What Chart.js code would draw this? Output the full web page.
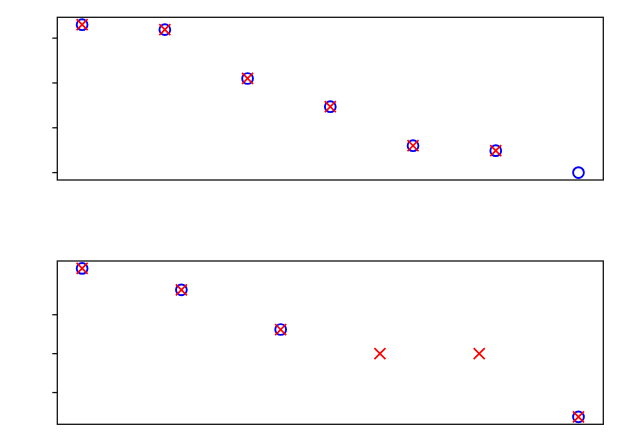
<!DOCTYPE html>
<html>
<head>
<meta charset="utf-8">
<script src="https://cdn.jsdelivr.net/npm/chart.js@4.4.1/dist/chart.umd.min.js"></script>
<style>
  html, body { margin: 0; padding: 0; background: #fff; }
  #top, #bottom { position: absolute; left: 0; }
  #top { top: 0; }
  #bottom { top: 219px; }
</style>
</head>
<body>
<canvas id="top" width="628" height="219"></canvas>
<canvas id="bottom" width="628" height="218"></canvas>
<script>
// top panel
const topBlue = [3.30, 3.19, 2.10, 1.47, 0.60, 0.49, 0.00];
const topRed = [3.30, 3.19, 2.10, 1.47, 0.60, 0.49, null];
const topTicks = [0, 1, 2, 3];

// bottom panel
const bottomBlue = [3.19, 2.64, 1.62, null, null, -0.625];
const bottomRed = [3.19, 2.64, 1.62, 1.00, 1.00, -0.625];
const bottomTicks = [0, 1, 2];

function toPoints(arr) {
  return arr.map((v, i) => ({ x: i, y: v })).filter(p => p.y !== null);
}

// matplotlib-like 5% margins
function limits(values) {
  const vals = values.filter(v => v !== null);
  const lo = Math.min(...vals), hi = Math.max(...vals);
  const m = (hi - lo) * 0.05;
  return [lo - m, hi + m];
}

const frame = {
  id: 'frame',
  afterDraw(chart, args, opts) {
    const { ctx, chartArea: a } = chart;
    const y = chart.scales.y;
    ctx.save();
    ctx.strokeStyle = '#111';
    ctx.lineWidth = 1.3;
    ctx.strokeRect(a.left, a.top, a.right - a.left, a.bottom - a.top);
    opts.ticks.forEach(t => {
      const py = y.getPixelForValue(t);
      ctx.beginPath();
      ctx.moveTo(a.left - 5, py);
      ctx.lineTo(a.left, py);
      ctx.stroke();
    });
    ctx.restore();
  }
};

function makeChart(id, blue, red, ticks, padding) {
  const n = blue.length;
  const [ymin, ymax] = limits(blue.concat(red));
  const xm = (n - 1) * 0.05;
  new Chart(document.getElementById(id), {
    type: 'scatter',
    data: {
      datasets: [
        {
          data: toPoints(red),
          pointStyle: 'crossRot',
          radius: 7.8,
          borderColor: '#ff0000',
          borderWidth: 1.7,
          order: 0
        },
        {
          data: toPoints(blue),
          pointStyle: 'circle',
          radius: 5.4,
          borderColor: '#0000ff',
          backgroundColor: 'rgba(0,0,0,0)',
          borderWidth: 1.9,
          order: 1
        }
      ]
    },
    options: {
      responsive: false,
      animation: false,
      layout: { padding: padding },
      scales: {
        x: { display: false, min: -xm, max: n - 1 + xm },
        y: { display: false, min: ymin, max: ymax }
      },
      plugins: {
        legend: { display: false },
        tooltip: { enabled: false },
        frame: { ticks: ticks }
      }
    },
    plugins: [frame]
  });
}

makeChart('top', topBlue, topRed, topTicks, { top: 17.3, left: 57.3, right: 24.7, bottom: 39 });
makeChart('bottom', bottomBlue, bottomRed, bottomTicks, { top: 42, left: 57.3, right: 24.7, bottom: 12.7 });
</script>
</body>
</html>
